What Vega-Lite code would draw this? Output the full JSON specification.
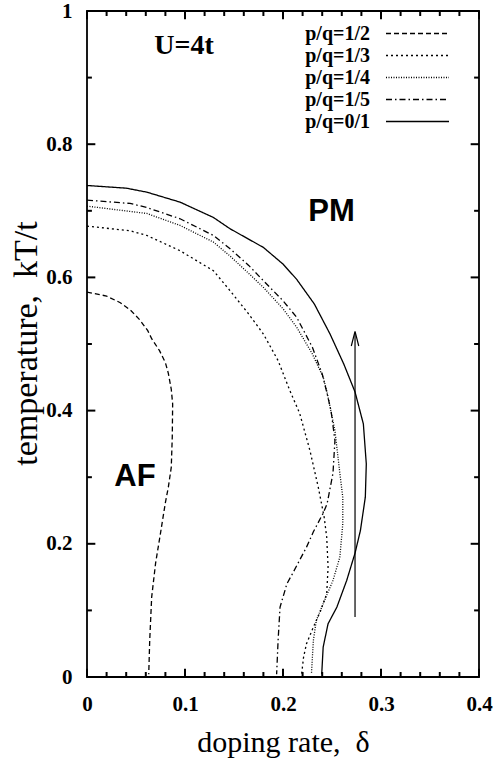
{
  "$schema": "https://vega.github.io/schema/vega-lite/v6.json",
  "autosize": {"type": "none"},
  "padding": {"left": 87, "top": 11, "right": 15, "bottom": 81},
  "width": 392,
  "height": 666,
  "background": "white",
  "config": {
    "view": {"stroke": "black", "strokeWidth": 1.8},
    "axis": {"domain": false, "grid": false, "labelColor": "black", "titleColor": "black"}
  },
  "datasets": {
    "curves": [
      {"s":"p/q=1/2","i":0,"d":0,"T":0.578},{"s":"p/q=1/2","i":1,"d":0.02,"T":0.572},{"s":"p/q=1/2","i":2,"d":0.034,"T":0.562},{"s":"p/q=1/2","i":3,"d":0.045,"T":0.55},{"s":"p/q=1/2","i":4,"d":0.054,"T":0.536},{"s":"p/q=1/2","i":5,"d":0.062,"T":0.52},{"s":"p/q=1/2","i":6,"d":0.066,"T":0.508},{"s":"p/q=1/2","i":7,"d":0.074,"T":0.49},{"s":"p/q=1/2","i":8,"d":0.08,"T":0.472},{"s":"p/q=1/2","i":9,"d":0.083,"T":0.456},{"s":"p/q=1/2","i":10,"d":0.086,"T":0.432},{"s":"p/q=1/2","i":11,"d":0.0874,"T":0.41},{"s":"p/q=1/2","i":12,"d":0.087,"T":0.36},{"s":"p/q=1/2","i":13,"d":0.086,"T":0.315},{"s":"p/q=1/2","i":14,"d":0.083,"T":0.285},{"s":"p/q=1/2","i":15,"d":0.08,"T":0.262},{"s":"p/q=1/2","i":16,"d":0.075,"T":0.216},{"s":"p/q=1/2","i":17,"d":0.07,"T":0.171},{"s":"p/q=1/2","i":18,"d":0.066,"T":0.12},{"s":"p/q=1/2","i":19,"d":0.064,"T":0.055},{"s":"p/q=1/2","i":20,"d":0.063,"T":0.004},
      {"s":"p/q=1/3","i":0,"d":0,"T":0.677},{"s":"p/q=1/3","i":1,"d":0.044,"T":0.67},{"s":"p/q=1/3","i":2,"d":0.061,"T":0.663},{"s":"p/q=1/3","i":3,"d":0.095,"T":0.64},{"s":"p/q=1/3","i":4,"d":0.129,"T":0.61},{"s":"p/q=1/3","i":5,"d":0.146,"T":0.58},{"s":"p/q=1/3","i":6,"d":0.165,"T":0.545},{"s":"p/q=1/3","i":7,"d":0.18,"T":0.515},{"s":"p/q=1/3","i":8,"d":0.195,"T":0.475},{"s":"p/q=1/3","i":9,"d":0.207,"T":0.43},{"s":"p/q=1/3","i":10,"d":0.217,"T":0.396},{"s":"p/q=1/3","i":11,"d":0.2275,"T":0.34},{"s":"p/q=1/3","i":12,"d":0.236,"T":0.285},{"s":"p/q=1/3","i":13,"d":0.242,"T":0.24},{"s":"p/q=1/3","i":14,"d":0.2446,"T":0.21},{"s":"p/q=1/3","i":15,"d":0.246,"T":0.165},{"s":"p/q=1/3","i":16,"d":0.2446,"T":0.125},{"s":"p/q=1/3","i":17,"d":0.238,"T":0.098},{"s":"p/q=1/3","i":18,"d":0.231,"T":0.075},{"s":"p/q=1/3","i":19,"d":0.224,"T":0.05},{"s":"p/q=1/3","i":20,"d":0.221,"T":0.03},{"s":"p/q=1/3","i":21,"d":0.219,"T":0.004},
      {"s":"p/q=1/4","i":0,"d":0,"T":0.707},{"s":"p/q=1/4","i":1,"d":0.061,"T":0.696},{"s":"p/q=1/4","i":2,"d":0.095,"T":0.678},{"s":"p/q=1/4","i":3,"d":0.129,"T":0.653},{"s":"p/q=1/4","i":4,"d":0.146,"T":0.632},{"s":"p/q=1/4","i":5,"d":0.165,"T":0.606},{"s":"p/q=1/4","i":6,"d":0.18,"T":0.585},{"s":"p/q=1/4","i":7,"d":0.2,"T":0.553},{"s":"p/q=1/4","i":8,"d":0.214,"T":0.525},{"s":"p/q=1/4","i":9,"d":0.23,"T":0.485},{"s":"p/q=1/4","i":10,"d":0.241,"T":0.45},{"s":"p/q=1/4","i":11,"d":0.2446,"T":0.43},{"s":"p/q=1/4","i":12,"d":0.253,"T":0.37},{"s":"p/q=1/4","i":13,"d":0.258,"T":0.306},{"s":"p/q=1/4","i":14,"d":0.261,"T":0.27},{"s":"p/q=1/4","i":15,"d":0.261,"T":0.23},{"s":"p/q=1/4","i":16,"d":0.258,"T":0.18},{"s":"p/q=1/4","i":17,"d":0.251,"T":0.145},{"s":"p/q=1/4","i":18,"d":0.241,"T":0.11},{"s":"p/q=1/4","i":19,"d":0.234,"T":0.085},{"s":"p/q=1/4","i":20,"d":0.231,"T":0.055},{"s":"p/q=1/4","i":21,"d":0.229,"T":0.004},
      {"s":"p/q=1/5","i":0,"d":0,"T":0.716},{"s":"p/q=1/5","i":1,"d":0.044,"T":0.711},{"s":"p/q=1/5","i":2,"d":0.061,"T":0.705},{"s":"p/q=1/5","i":3,"d":0.095,"T":0.688},{"s":"p/q=1/5","i":4,"d":0.129,"T":0.663},{"s":"p/q=1/5","i":5,"d":0.146,"T":0.643},{"s":"p/q=1/5","i":6,"d":0.165,"T":0.618},{"s":"p/q=1/5","i":7,"d":0.18,"T":0.595},{"s":"p/q=1/5","i":8,"d":0.2,"T":0.565},{"s":"p/q=1/5","i":9,"d":0.214,"T":0.54},{"s":"p/q=1/5","i":10,"d":0.23,"T":0.495},{"s":"p/q=1/5","i":11,"d":0.24,"T":0.455},{"s":"p/q=1/5","i":12,"d":0.2446,"T":0.428},{"s":"p/q=1/5","i":13,"d":0.249,"T":0.4},{"s":"p/q=1/5","i":14,"d":0.253,"T":0.355},{"s":"p/q=1/5","i":15,"d":0.251,"T":0.306},{"s":"p/q=1/5","i":16,"d":0.245,"T":0.26},{"s":"p/q=1/5","i":17,"d":0.241,"T":0.246},{"s":"p/q=1/5","i":18,"d":0.231,"T":0.218},{"s":"p/q=1/5","i":19,"d":0.224,"T":0.195},{"s":"p/q=1/5","i":20,"d":0.21,"T":0.156},{"s":"p/q=1/5","i":21,"d":0.204,"T":0.14},{"s":"p/q=1/5","i":22,"d":0.197,"T":0.105},{"s":"p/q=1/5","i":23,"d":0.195,"T":0.055},{"s":"p/q=1/5","i":24,"d":0.1935,"T":0.004},
      {"s":"p/q=0/1","i":0,"d":0,"T":0.738},{"s":"p/q=0/1","i":1,"d":0.04,"T":0.734},{"s":"p/q=0/1","i":2,"d":0.061,"T":0.728},{"s":"p/q=0/1","i":3,"d":0.095,"T":0.713},{"s":"p/q=0/1","i":4,"d":0.129,"T":0.69},{"s":"p/q=0/1","i":5,"d":0.146,"T":0.673},{"s":"p/q=0/1","i":6,"d":0.18,"T":0.645},{"s":"p/q=0/1","i":7,"d":0.2,"T":0.62},{"s":"p/q=0/1","i":8,"d":0.214,"T":0.597},{"s":"p/q=0/1","i":9,"d":0.232,"T":0.56},{"s":"p/q=0/1","i":10,"d":0.248,"T":0.515},{"s":"p/q=0/1","i":11,"d":0.262,"T":0.47},{"s":"p/q=0/1","i":12,"d":0.2735,"T":0.428},{"s":"p/q=0/1","i":13,"d":0.282,"T":0.38},{"s":"p/q=0/1","i":14,"d":0.285,"T":0.32},{"s":"p/q=0/1","i":15,"d":0.284,"T":0.27},{"s":"p/q=0/1","i":16,"d":0.279,"T":0.22},{"s":"p/q=0/1","i":17,"d":0.2735,"T":0.186},{"s":"p/q=0/1","i":18,"d":0.265,"T":0.145},{"s":"p/q=0/1","i":19,"d":0.255,"T":0.105},{"s":"p/q=0/1","i":20,"d":0.246,"T":0.08},{"s":"p/q=0/1","i":21,"d":0.241,"T":0.045},{"s":"p/q=0/1","i":22,"d":0.2395,"T":0.004}
    ],
    "shaft": [{"i":0,"d":0.2735,"T":0.09},{"i":1,"d":0.2735,"T":0.517}],
    "head": [{"i":0,"d":0.2697,"T":0.497},{"i":1,"d":0.2735,"T":0.519},{"i":2,"d":0.2773,"T":0.497}],
    "serifText": [{"label":"U=4t","d":0.099,"T":0.9475}],
    "sansText": [{"label":"PM","d":0.2495,"T":0.698},{"label":"AF","d":0.049,"T":0.3006}],
    "xticks": [{"v":0,"major":true},{"v":0.02,"major":false},{"v":0.04,"major":false},{"v":0.06,"major":false},{"v":0.08,"major":false},{"v":0.1,"major":true},{"v":0.12,"major":false},{"v":0.14,"major":false},{"v":0.16,"major":false},{"v":0.18,"major":false},{"v":0.2,"major":true},{"v":0.22,"major":false},{"v":0.24,"major":false},{"v":0.26,"major":false},{"v":0.28,"major":false},{"v":0.3,"major":true},{"v":0.32,"major":false},{"v":0.34,"major":false},{"v":0.36,"major":false},{"v":0.38,"major":false},{"v":0.4,"major":true}],
    "yticks": [{"v":0,"major":true},{"v":0.1,"major":false},{"v":0.2,"major":true},{"v":0.3,"major":false},{"v":0.4,"major":true},{"v":0.5,"major":false},{"v":0.6,"major":true},{"v":0.7,"major":false},{"v":0.8,"major":true},{"v":0.9,"major":false},{"v":1,"major":true}]
  },
  "layer": [
    {
      "data": {"name": "curves"},
      "mark": {"type": "line", "color": "black", "strokeWidth": 1.3},
      "encoding": {
        "x": {"field": "d", "type": "quantitative", "scale": {"domain": [0, 0.4], "nice": false, "zero": false},
          "axis": {"orient": "bottom", "values": [0, 0.1, 0.2, 0.3, 0.4], "ticks": false, "labelPadding": 16, "labelFont": "Liberation Serif", "labelFontWeight": "bold", "labelFontSize": 21, "labelFlush": false, "labelOverlap": false, "format": "~g",
            "title": "doping rate,\u00a0 δ", "titleFont": "Liberation Serif", "titleFontWeight": "normal", "titleFontSize": 30, "titleX": 196, "titleY": 74, "titleBaseline": "alphabetic", "titleAlign": "center", "titleAnchor": "middle"}},
        "y": {"field": "T", "type": "quantitative", "scale": {"domain": [0, 1], "nice": false, "zero": false},
          "axis": {"orient": "left", "values": [0, 0.2, 0.4, 0.6, 0.8, 1], "ticks": false, "labelPadding": 15, "labelFont": "Liberation Serif", "labelFontWeight": "bold", "labelFontSize": 21, "labelFlush": false, "labelOverlap": false, "format": "~g",
            "title": "temperature,\u00a0 kT/t", "titleFont": "Liberation Serif", "titleFontWeight": "normal", "titleFontSize": 34, "titleAngle": -90, "titleX": -51, "titleY": 332, "titleBaseline": "alphabetic", "titleAlign": "center", "titleAnchor": "middle"}},
        "strokeDash": {"field": "s", "type": "nominal",
          "scale": {"domain": ["p/q=1/2", "p/q=1/3", "p/q=1/4", "p/q=1/5", "p/q=0/1"], "range": [[5, 3], [2, 3], [1, 1.5], [6, 3, 1.5, 3], [1, 0]]},
          "legend": {"orient": "none", "legendX": 239, "legendY": 11, "title": null, "symbolType": "M-3,0H3", "symbolSize": 441, "symbolStrokeWidth": 1.3, "symbolStrokeColor": "black", "symbolOffset": 80, "labelOffset": -59, "labelAlign": "right", "labelFont": "Liberation Serif", "labelFontWeight": "bold", "labelFontSize": 20, "labelColor": "black", "rowPadding": 0, "padding": 0, "labelLimit": 300}},
        "order": {"field": "i", "type": "quantitative"}
      }
    },
    {
      "data": {"name": "shaft"},
      "mark": {"type": "line", "color": "black", "strokeWidth": 1.2},
      "encoding": {
        "x": {"field": "d", "type": "quantitative"},
        "y": {"field": "T", "type": "quantitative"},
        "order": {"field": "i", "type": "quantitative"}
      }
    },
    {
      "data": {"name": "head"},
      "mark": {"type": "line", "color": "black", "strokeWidth": 1.2},
      "encoding": {
        "x": {"field": "d", "type": "quantitative"},
        "y": {"field": "T", "type": "quantitative"},
        "order": {"field": "i", "type": "quantitative"}
      }
    },
    {
      "data": {"name": "xticks"},
      "transform": [{"filter": "datum.major"}],
      "mark": {"type": "rule", "color": "black", "strokeWidth": 2},
      "encoding": {
        "x": {"field": "v", "type": "quantitative"},
        "y": {"datum": 0, "type": "quantitative"},
        "y2": {"datum": 0.0125}
      }
    },
    {
      "data": {"name": "xticks"},
      "transform": [{"filter": "!datum.major"}],
      "mark": {"type": "rule", "color": "black", "strokeWidth": 2},
      "encoding": {
        "x": {"field": "v", "type": "quantitative"},
        "y": {"datum": 0, "type": "quantitative"},
        "y2": {"datum": 0.0075}
      }
    },
    {
      "data": {"name": "xticks"},
      "transform": [{"filter": "datum.major"}],
      "mark": {"type": "rule", "color": "black", "strokeWidth": 2},
      "encoding": {
        "x": {"field": "v", "type": "quantitative"},
        "y": {"datum": 1, "type": "quantitative"},
        "y2": {"datum": 0.9875}
      }
    },
    {
      "data": {"name": "xticks"},
      "transform": [{"filter": "!datum.major"}],
      "mark": {"type": "rule", "color": "black", "strokeWidth": 2},
      "encoding": {
        "x": {"field": "v", "type": "quantitative"},
        "y": {"datum": 1, "type": "quantitative"},
        "y2": {"datum": 0.9925}
      }
    },
    {
      "data": {"name": "yticks"},
      "transform": [{"filter": "datum.major"}],
      "mark": {"type": "rule", "color": "black", "strokeWidth": 2},
      "encoding": {
        "y": {"field": "v", "type": "quantitative"},
        "x": {"datum": 0, "type": "quantitative"},
        "x2": {"datum": 0.0085}
      }
    },
    {
      "data": {"name": "yticks"},
      "transform": [{"filter": "!datum.major"}],
      "mark": {"type": "rule", "color": "black", "strokeWidth": 2},
      "encoding": {
        "y": {"field": "v", "type": "quantitative"},
        "x": {"datum": 0, "type": "quantitative"},
        "x2": {"datum": 0.005}
      }
    },
    {
      "data": {"name": "yticks"},
      "transform": [{"filter": "datum.major"}],
      "mark": {"type": "rule", "color": "black", "strokeWidth": 2},
      "encoding": {
        "y": {"field": "v", "type": "quantitative"},
        "x": {"datum": 0.4, "type": "quantitative"},
        "x2": {"datum": 0.3915}
      }
    },
    {
      "data": {"name": "yticks"},
      "transform": [{"filter": "!datum.major"}],
      "mark": {"type": "rule", "color": "black", "strokeWidth": 2},
      "encoding": {
        "y": {"field": "v", "type": "quantitative"},
        "x": {"datum": 0.4, "type": "quantitative"},
        "x2": {"datum": 0.395}
      }
    },
    {
      "data": {"name": "serifText"},
      "mark": {"type": "text", "font": "Liberation Serif", "fontWeight": "bold", "fontSize": 28, "align": "center", "baseline": "middle", "color": "black"},
      "encoding": {
        "x": {"field": "d", "type": "quantitative"},
        "y": {"field": "T", "type": "quantitative"},
        "text": {"field": "label"}
      }
    },
    {
      "data": {"name": "sansText"},
      "mark": {"type": "text", "font": "Liberation Sans", "fontWeight": "bold", "fontSize": 31, "align": "center", "baseline": "middle", "color": "black"},
      "encoding": {
        "x": {"field": "d", "type": "quantitative"},
        "y": {"field": "T", "type": "quantitative"},
        "text": {"field": "label"}
      }
    }
  ]
}
